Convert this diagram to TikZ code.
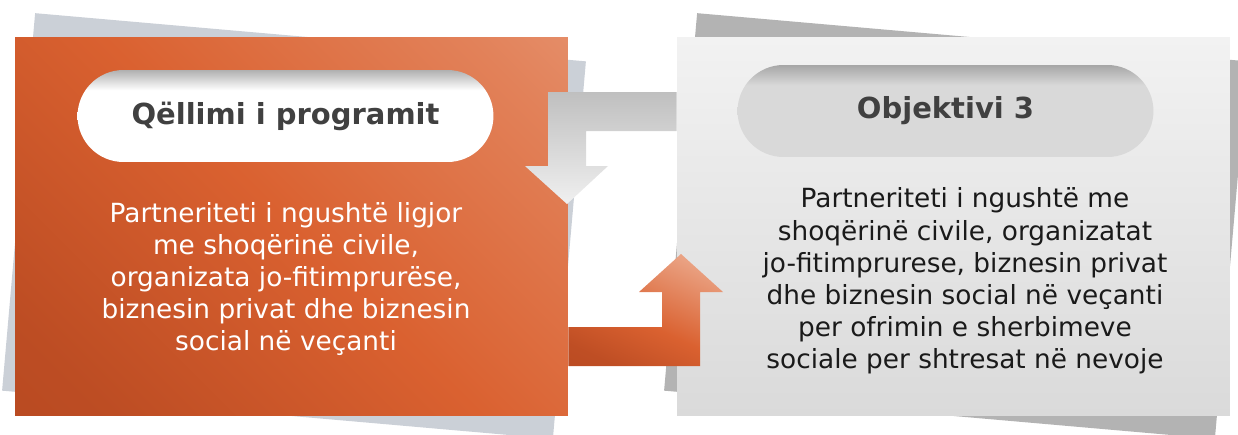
\documentclass[tikz,border=0pt]{standalone}
\usepackage{fontspec}
\setmainfont{DejaVu Sans}
\usetikzlibrary{shapes.misc}

\definecolor{orDark}{HTML}{B3461F}
\definecolor{orMid}{HTML}{DA6130}
\definecolor{orLight}{HTML}{EAA283}
\definecolor{goalBack}{HTML}{CBD0D7}
\definecolor{objBack}{HTML}{B3B3B3}
\definecolor{objTop}{HTML}{F2F2F2}
\definecolor{objBottom}{HTML}{DADADA}
\definecolor{pillEdge}{HTML}{B0B0B0}
\definecolor{pillGray}{HTML}{D9D9D9}
\definecolor{pillGrayEdge}{HTML}{A6A6A6}
\definecolor{titleInk}{HTML}{404040}
\definecolor{bodyInk}{HTML}{1A1A1A}

\pgfdeclareverticalshading{pillwhite}{100bp}{color(0bp)=(white); color(25bp)=(white); color(64bp)=(white); color(75bp)=(pillEdge); color(100bp)=(pillEdge)}
\pgfdeclareverticalshading{pillgray}{100bp}{color(0bp)=(pillGray); color(25bp)=(pillGray); color(64bp)=(pillGray); color(75bp)=(pillGrayEdge); color(100bp)=(pillGrayEdge)}
\pgfdeclareverticalshading{goalshade}{100bp}{color(0bp)=(orDark); color(22bp)=(orDark!75!orMid); color(50bp)=(orMid); color(78bp)=(orMid!50!orLight); color(100bp)=(orLight)}
\pgfdeclareverticalshading{arrowshade}{100bp}{color(0bp)=(orDark); color(25bp)=(orDark!70!orMid); color(45bp)=(orMid); color(75bp)=(orLight); color(100bp)=(orLight)}

\newcommand{\bodyfont}{\fontsize{15}{18.3}\selectfont}
\newcommand{\titlefont}{\bfseries\fontsize{16.5}{20}\selectfont}

\begin{document}
\begin{tikzpicture}[x=0.02cm, y=-0.02cm,
    panel/.style={rectangle, inner sep=+0pt, minimum width=11.06cm, minimum height=7.58cm},
    pill/.style={rounded rectangle, inner sep=+0pt, minimum width=8.32cm, minimum height=1.84cm, text=titleInk, font=\titlefont}]
        \useasboundingbox (0,0) rectangle (1238,434);

        % shadows behind the two panels
        \node[panel, fill=goalBack, rotate=-5] (goalback) at (294,226) {};
        \node[panel, fill=objBack, rotate=-5] (objback) at (956,226) {};

        % panels
        \node[panel, shading=goalshade, shading angle=-45] (goal) at (291.5,226.5) {};
        \node[panel, top color=objTop, bottom color=objBottom] (obj) at (953.5,226.5) {};

        % titles
        \node[pill, shading=pillwhite] (goaltitle) at (285.5,116) {Qëllimi i programit};
        \node[pill, shading=pillgray] (objtitle) at (945.5,111) {Objektivi 3};

        % texts
        \node[align=center, text=white, font=\bodyfont] (goaltext) at (286,279) {
            Partneriteti i ngushtë ligjor\\
            me shoqërinë civile,\\
            organizata jo-fitimprurëse,\\
            biznesin privat dhe biznesin\\
            social në veçanti};
        \node[align=center, text=bodyInk, font=\bodyfont] (objtext) at (965,281) {
            Partneriteti i ngushtë me\\
            shoqërinë civile, organizatat\\
            jo-fitimprurese, biznesin privat\\
            dhe biznesin social në veçanti\\
            per ofrimin e sherbimeve\\
            sociale per shtresat në nevoje};

        % arrows between the panels
        \path[top color=black!25, bottom color=black!6]
            (obj.west |- 0,92) -- (548,92) -- (548,166) -- (525,166) -- (567,204)
            -- (608,166) -- (586,166) -- (586,131) -- (obj.west |- 0,131) -- cycle;
        \path[shading=arrowshade, shading angle=-25]
            (goal.east |- 0,327) -- (662,327) -- (662,292) -- (639,292) -- (681,254)
            -- (723,292) -- (700,292) -- (700,366) -- (goal.east |- 0,366) -- cycle;
\end{tikzpicture}
\end{document}
